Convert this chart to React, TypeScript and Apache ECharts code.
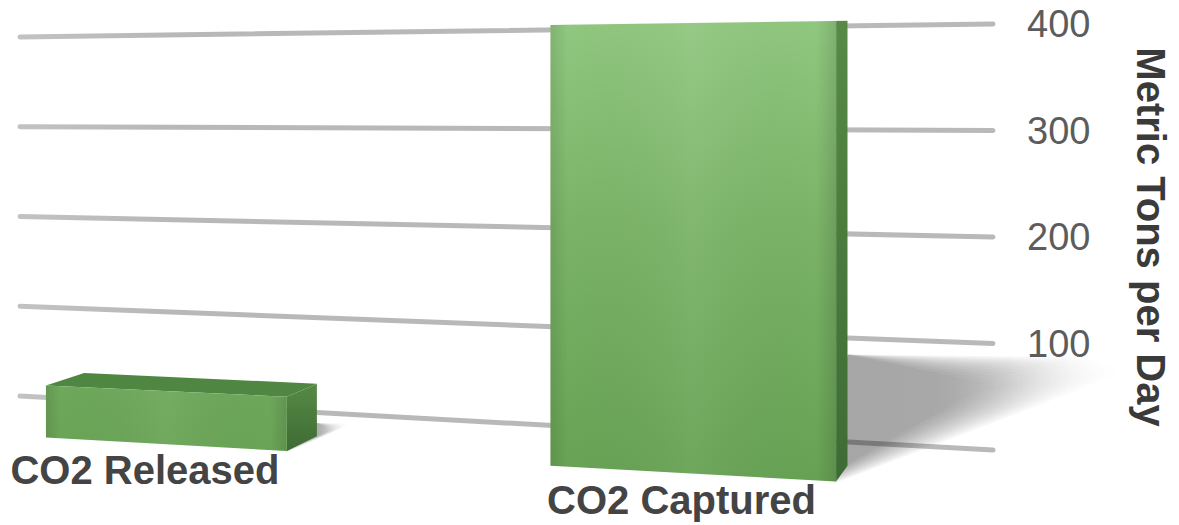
import React, { useEffect, useRef } from 'react';
import * as echarts from 'echarts';

// ---- data ----
const categories = ['CO2 Released', 'CO2 Captured'];
const tonsPerDay = [52, 405];
const yTicks = [0, 100, 200, 300, 400];
const axisTitle = 'Metric Tons per Day';

// ---- view (perspective) constants ----
const VIEW = {
  farScale: 0.843, // vertical scale of the wall at its far (left) edge
  convergeFrac: 0.193, // y where gridlines converge, fraction of grid height
  vpXFrac: 1.1887, // depth vanishing point x, fraction of grid width
  vpYOffset: -9, // depth vanishing point y relative to grid top
  front: 1.09,
  back: 1.053,
  label: 1.11,
  barFrac: 0.586,
  barShift: 0.03,
};

const FONT = '"Liberation Sans", Arial, Helvetica, sans-serif';

function makeProjector(params: any, api: any) {
  const cs = params.coordSys;
  const H = cs.y + VIEW.convergeFrac * cs.height;
  const vp = [cs.x + VIEW.vpXFrac * cs.width, cs.y + VIEW.vpYOffset];
  const wall = (t: number, val: number) => {
    const yR = api.coord([0, val])[1];
    const yL = H + (yR - H) * VIEW.farScale;
    return [cs.x + t * cs.width, yL + (yR - yL) * t];
  };
  const layer = (p: number[], s: number) => [vp[0] + (p[0] - vp[0]) * s, vp[1] + (p[1] - vp[1]) * s];
  return { cs, wall, layer };
}

export default function App() {
  const ref = useRef<HTMLDivElement>(null);
  useEffect(() => {
    if (!ref.current) return;
    const chart = echarts.init(ref.current, undefined, { renderer: 'svg' });

    const gridRender = (params: any, api: any) => {
      const { wall } = makeProjector(params, api);
      const v = api.value(1);
      const a = wall(0, v);
      const b = wall(1, v);
      return {
        type: 'line',
        shape: { x1: a[0], y1: a[1], x2: b[0] + 4, y2: b[1] },
        style: {
          stroke: new echarts.graphic.LinearGradient(0, 0, 1, 0, [
            { offset: 0, color: '#c2c2c2' },
            { offset: 0.15, color: '#b8b8b8' },
            { offset: 1, color: '#b9b9b9' },
          ]),
          lineWidth: 5,
          lineCap: 'round',
        },
      };
    };

    const barRender = (params: any, api: any) => {
      const { cs, wall, layer } = makeProjector(params, api);
      const idx = api.value(0);
      const v = api.value(1);
      const xc = api.coord([idx, 0])[0];
      const band = api.size([1, 0])[0];
      const tC = (xc - cs.x) / cs.width;
      const ls = VIEW.farScale + (1 - VIEW.farScale) * tC;
      const half = (VIEW.barFrac * band * ls * ls) / 2;
      const xcw = xc - VIEW.barShift * band * ls;
      const t0 = (xcw - half - cs.x) / cs.width;
      const t1 = (xcw + half - cs.x) / cs.width;

      const A = wall(t0, 0), B = wall(t1, 0), C = wall(t1, v), D = wall(t0, v);
      const Af = layer(A, VIEW.front), Bf = layer(B, VIEW.front), Cf = layer(C, VIEW.front), Df = layer(D, VIEW.front);
      const Bb = layer(B, VIEW.back), Cb = layer(C, VIEW.back), Db = layer(D, VIEW.back);

      const children: any[] = [];

      // soft cast shadow: left edge fixed at the bar, far end feathered
      const h = Af[1] - Df[1];
      const L = 0.63 * h;
      const sTop = layer(wall(t1, v * 0.25), VIEW.back);
      const sBot = [Bf[0] - 2, Bf[1] + 2];
      const far = [
        [sTop[0] + 0.85 * L, sTop[1] + 0.01 * L],
        [sTop[0] + L, sTop[1] + 0.06 * L],
        [sTop[0] + 0.85 * L, sTop[1] + 0.12 * L],
      ];
      const anchor = [sTop[0] - 6, sTop[1] + 0.3 * (sBot[1] - sTop[1])];
      const N = 12;
      for (let i = 0; i < N; i++) {
        const su = 1 - i * 0.04;
        const sw = 1 - i * 0.06;
        const p = far.map((q) => [anchor[0] + (q[0] - anchor[0]) * su, anchor[1] + (q[1] - anchor[1]) * sw]);
        const bot = [sBot[0], anchor[1] + (sBot[1] - anchor[1]) * (1 - i * 0.012)];
        children.push({
          type: 'polygon',
          shape: { points: [sTop, p[0], p[1], p[2], bot] },
          style: {
            fill: new echarts.graphic.LinearGradient(0, 0, 1, 0, [
              { offset: 0, color: 'rgba(0,0,0,0.036)' },
              { offset: 0.6, color: 'rgba(0,0,0,0.034)' },
              { offset: 1, color: 'rgba(0,0,0,0)' },
            ]),
          },
        });
      }

      // top face
      children.push({
        type: 'polygon',
        shape: { points: [Df, Cf, Cb, Db] },
        style: { fill: '#4f8641' },
      });
      // right side face
      children.push({
        type: 'polygon',
        shape: { points: [Bf, Cf, Cb, Bb] },
        style: {
          fill: new echarts.graphic.LinearGradient(0, 0, 0, 1, [
            { offset: 0, color: '#568a46' },
            { offset: 1, color: '#3e6b34' },
          ]),
        },
      });
      // front face
      children.push({
        type: 'polygon',
        shape: { points: [Af, Bf, Cf, Df] },
        style: {
          fill: new echarts.graphic.LinearGradient(
            0, cs.y, 0, cs.y + cs.height + 30,
            [
              { offset: 0, color: '#90c77f' },
              { offset: 0.45, color: '#7ab367' },
              { offset: 1, color: '#67a254' },
            ],
            true
          ),
        },
      });
      // front sheen
      children.push({
        type: 'polygon',
        shape: { points: [Af, Bf, Cf, Df] },
        style: {
          fill: new echarts.graphic.LinearGradient(0, 0, 1, 0, [
            { offset: 0, color: 'rgba(0,0,0,0.10)' },
            { offset: 0.06, color: 'rgba(0,0,0,0)' },
            { offset: 0.5, color: 'rgba(255,255,255,0.05)' },
            { offset: 0.93, color: 'rgba(0,0,0,0)' },
            { offset: 1, color: 'rgba(0,0,0,0.12)' },
          ]),
        },
      });

      // category label, centred under the bar's front face
      const lp = layer([(A[0] + B[0]) / 2, (A[1] + B[1]) / 2], VIEW.label);
      children.push({
        type: 'text',
        style: {
          text: categories[idx],
          x: lp[0] - 3,
          y: lp[1] - 2,
          fill: '#444444',
          fontSize: 40,
          fontWeight: 'bold',
          fontFamily: FONT,
          align: 'center',
          verticalAlign: 'top',
        },
      });

      return { type: 'group', children };
    };

    chart.setOption({
      animation: false,
      backgroundColor: '#ffffff',
      grid: { left: 20, right: 189, top: 24, bottom: 75 },
      xAxis: {
        type: 'category',
        data: categories,
        axisLine: { show: false },
        axisTick: { show: false },
        axisLabel: { show: false },
        splitLine: { show: false },
      },
      yAxis: {
        type: 'value',
        position: 'right',
        min: 0,
        max: 400,
        interval: 100,
        axisLine: { show: false },
        axisTick: { show: false },
        splitLine: { show: false },
        axisLabel: {
          margin: 38,
          fontSize: 38,
          color: '#5c5c5c',
          fontFamily: FONT,
          formatter: (val: number) => (val === 0 ? '' : String(val)),
        },
        name: axisTitle,
        nameLocation: 'middle',
        nameRotate: -90,
        nameGap: 142,
        nameTextStyle: { fontSize: 40, fontWeight: 'bold', color: '#3a3a3a', fontFamily: FONT },
      },
      series: [
        {
          type: 'custom',
          z: 1,
          silent: true,
          data: yTicks.map((t) => [0, t]),
          encode: { x: 0, y: 1 },
          renderItem: gridRender,
        },
        {
          type: 'custom',
          z: 3,
          data: tonsPerDay.map((v, i) => [i, v]),
          encode: { x: 0, y: 1 },
          renderItem: barRender,
        },
      ],
    });
    return () => chart.dispose();
  }, []);
  return (
    <div
      ref={ref}
      style={{ position: 'fixed', left: 0, top: 0, width: 1179, height: 525, background: '#fff' }}
    />
  );
}
